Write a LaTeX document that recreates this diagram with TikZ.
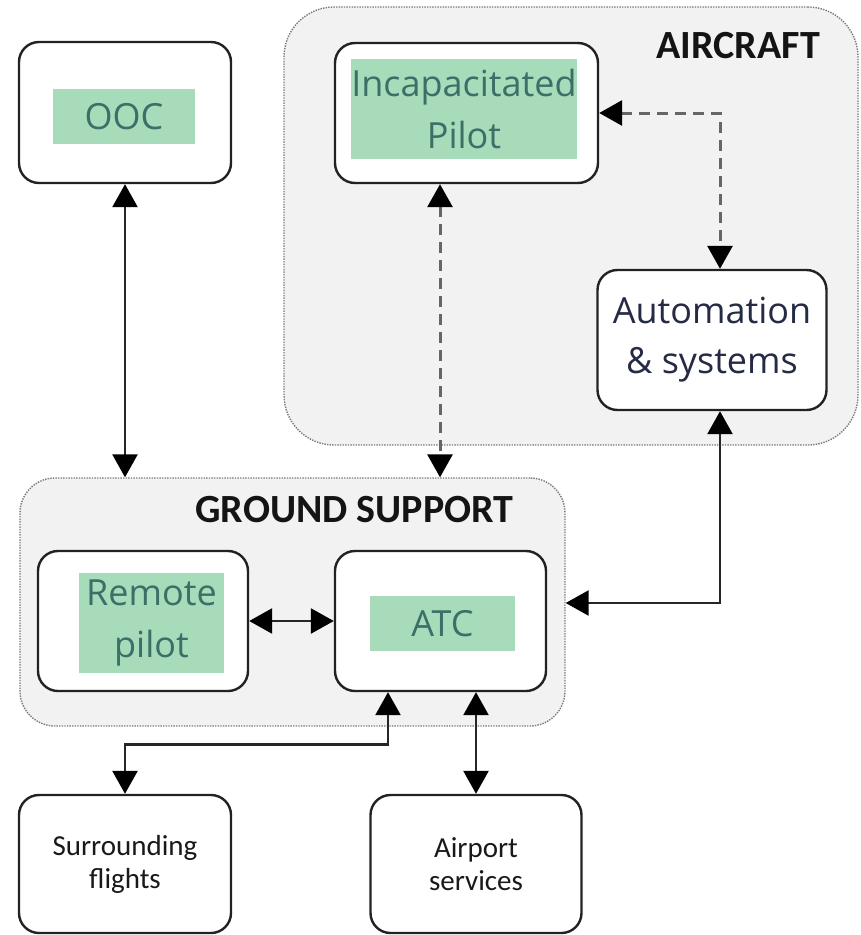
\documentclass[tikz,border=0pt]{standalone}
\usepackage{fontspec}
\setmainfont{Carlito}
\newfontfamily\osans{Open Sans}
\usetikzlibrary{arrows.meta}
\definecolor{hl}{HTML}{A8DBBA}
\definecolor{hltext}{HTML}{3D6E68}
\definecolor{navy}{HTML}{252A45}
\definecolor{panelfill}{HTML}{F2F2F2}
\definecolor{panelline}{HTML}{7A7A7A}
\definecolor{dashc}{HTML}{666666}
\definecolor{boxline}{HTML}{222222}
\begin{document}
\begin{tikzpicture}[x=1pt,y=-1pt,
  panel/.style={draw=panelline, line width=1.4pt, dash pattern=on 1.4pt off 1.2pt, fill=panelfill, inner sep=0pt},
  box/.style={draw=boxline, line width=2.4pt, rounded corners=20pt, fill=white, inner sep=0pt, align=center},
  hlbox/.style={fill=hl, text=hltext, font=\osans\fontsize{36}{52}\selectfont, align=center, inner sep=0pt},
  plain/.style={font=\fontsize{29}{33}\selectfont, text=black!90},
  title/.style={font=\bfseries\fontsize{40}{48}\selectfont, text=black!92, inner sep=0pt},
  conn/.style={line width=2.6pt, draw=black!85, {Triangle[length=23pt,width=25pt,black]}-{Triangle[length=23pt,width=25pt,black]}},
  dconn/.style={conn, line width=3pt, draw=dashc, dash pattern=on 11pt off 7pt}
]
\useasboundingbox (0,0) rectangle (860,935);

% containers
\node[panel, rounded corners=50pt, minimum width=574pt, minimum height=438pt] (aircraft) at (571,226) {};
\node[panel, rounded corners=35pt, minimum width=545pt, minimum height=248pt] (ground) at (292.5,602) {};
\node[title, anchor=base east] (actitle) at (820,58) {AIRCRAFT};
\node[title, anchor=base] (gstitle) at (354.5,522) {GROUND SUPPORT};

% boxes
\node[box, minimum width=212pt, minimum height=141pt] (ooc) at (125,112.5) {};
\node[hlbox, minimum width=142pt, minimum height=55pt] (oocl) at (124,116.5) {OOC};

\node[box, minimum width=263pt, minimum height=140pt] (inc) at (466.5,113) {};
\node[hlbox, minimum width=226pt, minimum height=100pt] (incl) at (464,109) {Incapacitated\\Pilot};

\node[box, minimum width=229pt, minimum height=140pt, text=navy, font=\osans\fontsize{36}{50}\selectfont] (auto) at (712,340) {Automation\\\& systems};

\node[box, minimum width=210pt, minimum height=140pt] (rp) at (143,621) {};
\node[hlbox, minimum width=145pt, minimum height=100pt] (rpl) at (151.5,623) {Remote\\pilot};

\node[box, minimum width=211pt, minimum height=140pt] (atc) at (440.5,621) {};
\node[hlbox, minimum width=145pt, minimum height=55pt] (atcl) at (442.5,623.5) {ATC};

\node[box, plain, minimum width=212pt, minimum height=138pt] (sf) at (125,864) {Surrounding\\flights};
\node[box, plain, minimum width=211pt, minimum height=138pt] (as) at (476,864) {Airport\\services};

% anchor points
\coordinate (incb) at ([xshift=-26.5pt]inc.south);
\coordinate (autot) at ([xshift=8pt]auto.north);
\coordinate (autob) at ([xshift=8pt]auto.south);
\coordinate (atcb) at ([xshift=-52.5pt]atc.south);

% connectors
\draw[conn] (ooc.south) -- (ooc.south |- ground.north);
\draw[dconn] (incb) -- (incb |- ground.north);
\draw[dconn] (inc.east) -- (inc.east -| autot) -- (autot);
\draw[conn] (autob) -- (autob |- 0,603) -- (ground.east |- 0,603);
\draw[conn] (rp.east) -- (atc.west);
\draw[conn] (atcb) -- ++(0,52) -| (sf.north);
\draw[conn] (atc.south -| as.north) -- (as.north);
\end{tikzpicture}
\end{document}
